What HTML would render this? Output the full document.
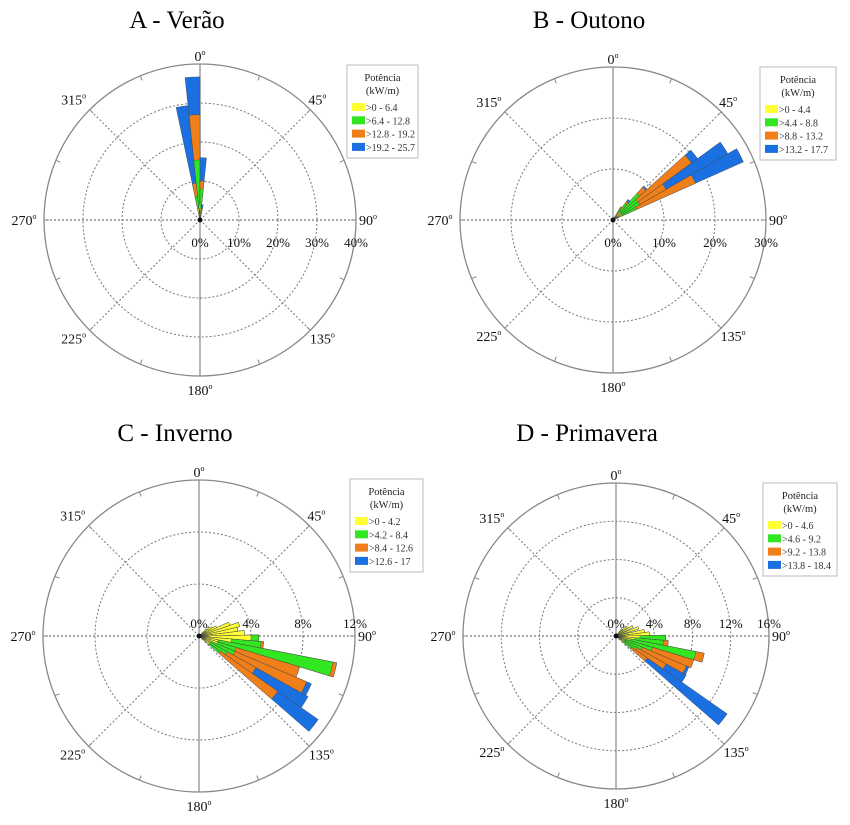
<!DOCTYPE html>
<html><head><meta charset="utf-8"><style>
html,body{margin:0;padding:0;background:#fff;}
svg{display:block;font-family:"Liberation Serif",serif;}
</style></head><body>
<svg id="chart" width="850" height="825" viewBox="0 0 850 825"></svg>
<script>
// Panel A - Verão
const aAngles = [357, 351, 3, 9];
const aYellow = [4, 3, 3, 1];
const aGreen = [15.4, 6, 8, 2];
const aOrange = [27, 9.5, 10, 3];
const aBlue = [36.7, 29.5, 16, 4];
const aLegend = [">0 - 6.4", ">6.4 - 12.8", ">12.8 - 19.2", ">19.2 - 25.7"];
const aTicks = ["0%", "10%", "20%", "30%", "40%"];
// Panel B - Outono
const bAngles = [63, 57, 51, 45, 39, 33];
const bYellow = [2, 2, 2, 2, 2, 1.5];
const bGreen = [5, 6, 6, 7, 4, 2.5];
const bOrange = [17.7, 12, 19, 8.7, 4.5, 3];
const bBlue = [28, 26, 20.5, 9, 5, 3];
const bLegend = [">0 - 4.4", ">4.4 - 8.8", ">8.8 - 13.2", ">13.2 - 17.7"];
const bTicks = ["0%", "10%", "20%", "30%"];
// Panel C - Inverno
const cAngles = [128, 122, 116, 110, 104, 98, 92, 86, 80, 74, 68, 62, 56, 50];
const cYellow = [1, 1, 1, 1.5, 1.5, 2.5, 4, 3.5, 3, 3.2, 2.5, 1.5, 1.2, 1];
const cGreen = [2, 2.5, 3, 3, 10.5, 4.8, 4.6, 3.5, 3, 3.2, 2.5, 1.5, 1.2, 1];
const cOrange = [7.4, 5, 9, 8.1, 10.8, 5, 4.6, 3.5, 3, 3.2, 2.5, 1.5, 1.2, 1];
const cBlue = [11.2, 9.6, 9.4, 8.1, 10.8, 5, 4.6, 3.5, 3, 3.2, 2.5, 1.5, 1.2, 1];
const cLegend = [">0 - 4.2", ">4.2 - 8.4", ">8.4 - 12.6", ">12.6 - 17"];
const cTicks = ["0%", "4%", "8%", "12%"];
// Panel D - Primavera
const dAngles = [128, 122, 116, 110, 104, 98, 92, 86, 80, 70, 60, 50, 40];
const dYellow = [1, 1, 1, 1, 1.5, 2, 2.5, 3.5, 3, 2.5, 2, 1.5, 1];
const dGreen = [2, 2.5, 3, 4, 8.5, 5, 5.2, 3.5, 3, 2.5, 2, 1.5, 1];
const dOrange = [4, 6, 8, 8.5, 9.4, 5.5, 5.2, 3.5, 3, 2.5, 2, 1.5, 1];
const dBlue = [14.2, 8.4, 8.3, 8.5, 9.4, 5.5, 5.2, 3.5, 3, 2.5, 2, 1.5, 1];
const dLegend = [">0 - 4.6", ">4.6 - 9.2", ">9.2 - 13.8", ">13.8 - 18.4"];
const dTicks = ["0%", "4%", "8%", "12%", "16%"];

const colors = ["#ffff33", "#33e622", "#f07f1a", "#1a70e0"];
const NS = "http://www.w3.org/2000/svg";
const svg = document.getElementById("chart");
function mk(tag, attrs, parent) {
  const e = document.createElementNS(NS, tag);
  for (const k in attrs) e.setAttribute(k, attrs[k]);
  (parent || svg).appendChild(e);
  return e;
}
function drawPanel(p) {
  const g = mk("g", {});
  
  
  const cx = p.cx, cy = p.cy, R = p.R, max = p.max;
  const rScale = v => v / max * R;
  const pt = (deg, r) => [cx + r * Math.sin(deg * Math.PI / 180), cy - r * Math.cos(deg * Math.PI / 180)];
  // title
  const t = mk("text", {x: p.tx, y: p.ty, "font-size": 25, "text-anchor": "middle", fill: "#000"}, g);
  t.textContent = p.title;
  
  
  // rings
  const n = p.ticks.length - 1;
  for (let i = 1; i < n; i++) {
    const c = mk("circle", {cx: cx, cy: cy, r: R * i / n, fill: "none", stroke: "#777", "stroke-width": 1, "stroke-dasharray": "2,2"}, g);
    
    
  }
  // spokes
  for (const a of [45, 135, 225, 315, 270, 90]) {
    const e = pt(a, R);
    const l = mk("line", {x1: cx, y1: cy, x2: e[0], y2: e[1], stroke: "#777", "stroke-width": a % 90 === 0 ? 1.3 : 1, "stroke-dasharray": "2,2"}, g);
    
    
  }
  const v = mk("line", {x1: cx, y1: cy - R, x2: cx, y2: cy + R, stroke: "#888", "stroke-width": 1.2}, g);
  
  
  // outer circle
  const oc = mk("circle", {cx: cx, cy: cy, r: R, fill: "none", stroke: "#888", "stroke-width": 1.3}, g);
  
  
  for (let a = 0; a < 360; a += 22.5) {
    const s = pt(a, R - 5), e = pt(a, R);
    const tk = mk("line", {x1: s[0], y1: s[1], x2: e[0], y2: e[1], stroke: "#888", "stroke-width": 1}, g);
    
    
  }
  // bars
  const w = 3;
  const series = [p.blue, p.orange, p.green, p.yellow];
  const cols = [colors[3], colors[2], colors[1], colors[0]];
  const names = ["blue", "orange", "green", "yellow"];
  for (let i = 0; i < p.angles.length; i++) {
    for (let s = 0; s < 4; s++) {
      const r = rScale(series[s][i]);
      const a1 = pt(p.angles[i] - w, r), a2 = pt(p.angles[i] + w, r);
      const path = mk("path", {d: `M${cx},${cy}L${a1[0]},${a1[1]}A${r},${r} 0 0 1 ${a2[0]},${a2[1]}Z`, fill: cols[s], stroke: "#444", "stroke-width": 0.4}, g);
      
      
    }
  }
  mk("circle", {cx: cx, cy: cy, r: 2.5, fill: "#111"}, g);
  // degree labels
  const degs = [[0, 0, -R - 8], [45, R * 0.72 + 5, -R * 0.72 - 8], [90, R + 12, 0], [135, R * 0.72 + 10, R * 0.72 + 6], [180, 0, R + 14], [225, -R * 0.72 - 14, R * 0.72 + 6], [270, -R - 20, 0], [315, -R * 0.72 - 14, -R * 0.72 - 8]];
  for (const d of degs) {
    const tx = mk("text", {x: cx + d[1], y: cy + d[2] + 5, "font-size": 14, "text-anchor": "middle", fill: "#111"}, g);
    tx.textContent = String(d[0]);
    const sup = mk("tspan", {"font-size": 8, dy: -6}, tx);
    sup.textContent = "o";
    
    
  }
  // percent labels
  for (let i = 0; i <= n; i++) {
    const tx = mk("text", {x: cx + R * i / n, y: cy + p.pctDy, "font-size": 13, "text-anchor": "middle", fill: "#111"}, g);
    tx.textContent = p.ticks[i];
    
    
  }
  // legend
  const lg = mk("g", {}, g);
  
  
  mk("rect", {x: p.lx, y: p.ly, width: p.lw, height: 93, fill: "#fff", stroke: "#bbb", "stroke-width": 1}, lg);
  const l1 = mk("text", {x: p.lx + p.lw / 2, y: p.ly + 16, "font-size": 10.5, "text-anchor": "middle", fill: "#222"}, lg);
  l1.textContent = "Potência";
  const l2 = mk("text", {x: p.lx + p.lw / 2, y: p.ly + 29, "font-size": 10.5, "text-anchor": "middle", fill: "#222"}, lg);
  l2.textContent = "(kW/m)";
  for (let i = 0; i < 4; i++) {
    const yy = p.ly + 38 + i * 13.3;
    mk("rect", {x: p.lx + 5, y: yy, width: 13, height: 8, fill: colors[i]}, lg);
    const tx = mk("text", {x: p.lx + 19, y: yy + 8, "font-size": 10, fill: "#333"}, lg);
    tx.textContent = p.legend[i];
    
    
  }
}
drawPanel({key: "verao", title: "A - Verão", tx: 177, ty: 28, cx: 200, cy: 220, R: 156, max: 40, angles: aAngles, yellow: aYellow, green: aGreen, orange: aOrange, blue: aBlue, legend: aLegend, ticks: aTicks, pctDy: 27, lx: 347, ly: 65, lw: 71});
drawPanel({key: "outono", title: "B - Outono", tx: 589, ty: 28, cx: 613, cy: 220, R: 153, max: 30, angles: bAngles, yellow: bYellow, green: bGreen, orange: bOrange, blue: bBlue, legend: bLegend, ticks: bTicks, pctDy: 27, lx: 760, ly: 67, lw: 76});
drawPanel({key: "inverno", title: "C - Inverno", tx: 175, ty: 441, cx: 199, cy: 636, R: 156, max: 12, angles: cAngles, yellow: cYellow, green: cGreen, orange: cOrange, blue: cBlue, legend: cLegend, ticks: cTicks, pctDy: -8, lx: 350, ly: 479, lw: 73});
drawPanel({key: "primavera", title: "D - Primavera", tx: 587, ty: 441, cx: 616, cy: 636, R: 153, max: 16, angles: dAngles, yellow: dYellow, green: dGreen, orange: dOrange, blue: dBlue, legend: dLegend, ticks: dTicks, pctDy: -8, lx: 763, ly: 483, lw: 74});
</script>
</body></html>
